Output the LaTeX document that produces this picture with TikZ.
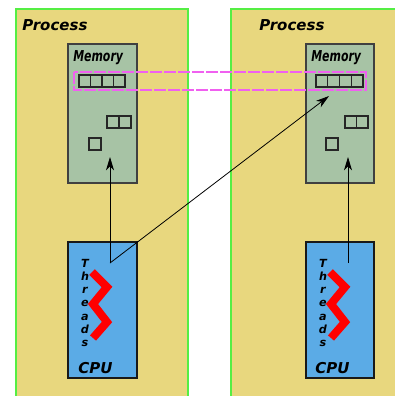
\documentclass[tikz,border=0pt]{standalone}
\usepackage{fontspec}
\setmainfont{DejaVu Sans}
\usetikzlibrary{arrows.meta}
\definecolor{procfill}{HTML}{E8D77E}
\definecolor{procline}{HTML}{55EE44}
\definecolor{memfill}{HTML}{A7C3A5}
\definecolor{cpufill}{HTML}{5BABE6}
\definecolor{sharedline}{HTML}{F060F0}
\tikzset{
  procbox/.style={fill=procfill,draw=procline,line width=1.2pt},
  membox/.style={fill=memfill,draw=black!75,line width=0.9pt},
  cpubox/.style={fill=cpufill,draw=black!90,line width=2pt},
  cell/.style={draw=black!85,line width=0.9pt},
  lbl/.style={font=\fontsize{11.25}{13}\selectfont\bfseries\itshape,inner sep=0pt},
  thr/.style={font=\fontsize{8.4}{10}\selectfont\bfseries\itshape,inner sep=0pt,anchor=base},
  zigzag/.style={draw=red,line width=6pt,line join=miter},
  link/.style={-{Stealth[length=10pt,width=6pt,inset=3pt]},line width=0.6pt},
  shared/.style={draw=sharedline,dash pattern=on 9pt off 1.5pt,line width=0.9pt}
}

\begin{document}
\begin{tikzpicture}[x=0.75pt,y=-0.75pt]
\useasboundingbox (0,0) rectangle (395,396);
\clip (0,0) rectangle (395,396);
% the two processes
\draw[procbox] (16,9) rectangle (188,410);
\draw[procbox] (231,9) rectangle (403,410);
\node[lbl,anchor=base west] (procL) at (22,31) {Process};
\node[lbl,anchor=base west] (procR) at (259,31) {Process};

% memory
\draw[membox] (68,44) rectangle (137,183);
\draw[membox] (306,44) rectangle (374,183);
\node[lbl,anchor=base west] (memL) at (73,61) {\scalebox{0.73}[1]{Memory}};
\node[lbl,anchor=base west] (memR) at (311,61) {\scalebox{0.73}[1]{Memory}};
\foreach \i in {0,...,3} {
  \draw[cell] (79+11.5*\i,75) rectangle +(11.5,12);
  \draw[cell] (316+11.75*\i,75) rectangle +(11.75,12);
}
\foreach \i in {0,1} {
  \draw[cell] (107+12*\i,116) rectangle +(12,12);
  \draw[cell] (345+11.5*\i,116) rectangle +(11.5,12);
}
\draw[cell] (89,138) rectangle +(12,12);
\draw[cell] (326,138) rectangle +(12,12);
\draw[shared] (74,72) rectangle (366,90);

% cpu
\draw[cpubox] (68,242) rectangle (137,378);
\draw[cpubox] (306,242) rectangle (374,378);
\node[lbl,anchor=base west] (cpuL) at (78,373) {CPU};
\node[lbl,anchor=base west] (cpuR) at (315,373) {CPU};
\foreach \l [count=\k] in {T,h,r,e,a,d,s} {
  \node[thr] (thL\k) at (85,267+13.3*\k-13.3) {\l};
  \node[thr] (thR\k) at (323,267+13.3*\k-13.3) {\l};
}
\draw[zigzag] (92,272) -- (107,287) -- (93,304) -- (107,322) -- (93,338);
\draw[zigzag] (330,272) -- (345,287) -- (331,304) -- (345,322) -- (331,338);

% links
\coordinate (srcL) at (110,263);
\coordinate (srcR) at (348,263);
\coordinate (dstL) at (110,157);
\coordinate (dstR) at (348,157);
\coordinate (dstX) at (329,96);
\draw[link] (srcL) -- (dstL);
\draw[link] (srcR) -- (dstR);
\draw[link] (srcL) -- (dstX);

\end{tikzpicture}
\end{document}
